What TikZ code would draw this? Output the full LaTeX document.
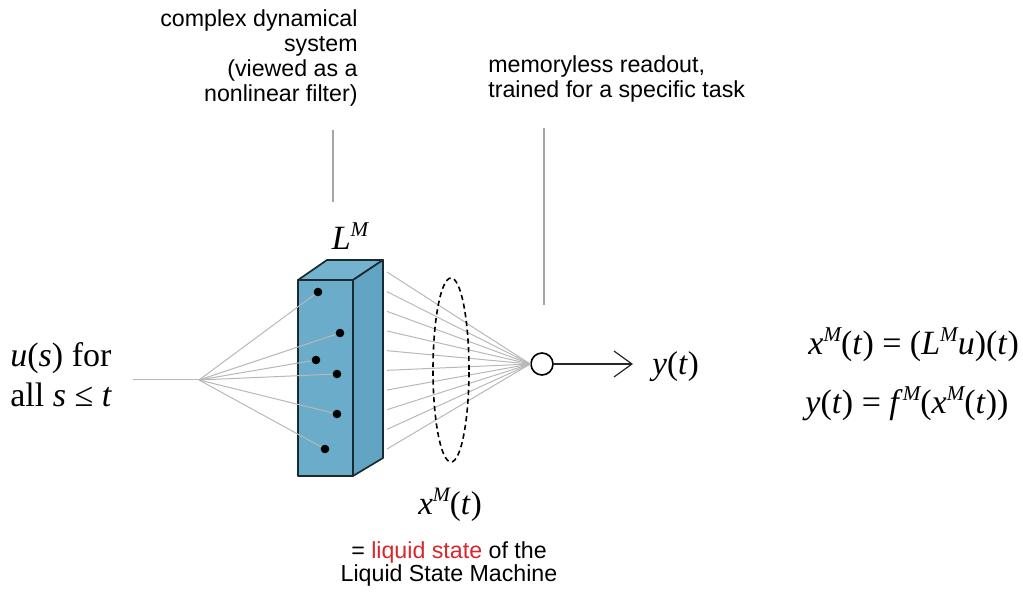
\documentclass[tikz,border=0pt]{standalone}
\usepackage{fontspec}
\setmainfont{Liberation Serif}
\newfontfamily\labelfont{Liberation Sans}
\usepackage{xcolor}
\usepackage{tikz}
\usetikzlibrary{arrows.meta, positioning}

\definecolor{liqfront}{HTML}{6AACCA}
\definecolor{liqtop}{HTML}{74B3D0}
\definecolor{liqside}{HTML}{62A4C3}
\definecolor{liqedge}{HTML}{1C2A30}
\definecolor{statered}{HTML}{D8262A}

% raised italic M used in L^M, x^M, f^M
\newcommand{\upM}{\raisebox{.4em}{\scalebox{.62}{\itshape M}}}

\begin{document}
\begin{tikzpicture}[x=0.5pt, y=-0.5pt,
    wire/.style={draw=black!28, line width=0.5pt},
    lead/.style={draw=black!35, line width=0.6pt},
    neuron/.style={circle, fill=black, inner sep=0pt, minimum size=4.3pt},
    note/.style={font=\labelfont\fontsize{11.6}{12.5}\selectfont, inner sep=0pt},
    formula/.style={font=\fontsize{16.5}{20}\selectfont, inner sep=0pt}]
    \useasboundingbox (0,0) rectangle (1023,592);

    % Liquid column
    \filldraw[fill=liqtop, draw=liqedge, line width=0.85pt, line join=round]
        (298,280) -- (327,260) -- (383,260) -- (353,280) -- cycle;
    \filldraw[fill=liqside, draw=liqedge, line width=0.85pt, line join=round]
        (353,280) -- (383,260) -- (383,458) -- (353,476) -- cycle;
    \filldraw[fill=liqfront, draw=liqedge, line width=0.85pt, line join=round]
        (298,280) rectangle (353,476);

    % Input and neurons
    \coordinate (in) at (133,380);
    \coordinate (hub) at (199,380);
    \node[neuron] (n1) at (318,292) {};
    \node[neuron] (n2) at (340,333) {};
    \node[neuron] (n3) at (316,360) {};
    \node[neuron] (n4) at (337,374) {};
    \node[neuron] (n5) at (337,414) {};
    \node[neuron] (n6) at (325,449) {};
    \draw[wire] (in) -- (hub);
    \foreach \n in {1,...,6}
        \draw[wire] (hub) -- (n\n);

    % Readout
    \node[circle, draw, line width=0.8pt, minimum size=11pt, inner sep=0pt] (readout) at (542,364) {};
    \foreach \i in {0,...,9} {
        \coordinate (o\i) at (387,272+19.67*\i);
        \draw[wire] (o\i) -- (readout.west);
    }
    \draw[line width=0.8pt, dash pattern=on 2.6pt off 1.8pt] (451,370) ellipse [x radius=9pt, y radius=46pt];

    \node[formula, anchor=base west] (out) at (652,375) {\textit{y}(\textit{t})};
    \coordinate (tip) at (633,364);
    \draw[-{Straight Barb[length=9pt, width=13pt]}, line width=0.6pt, draw=black!85] (readout.east) -- (tip);

    % Labels
    \node[formula, align=left, anchor=north west, font=\fontsize{17}{20}\selectfont] (input) at (10,342)
        {\textit{u}(\textit{s}) for\\all \textit{s} ≤ \textit{t}};
    \node[formula, anchor=base, font=\fontsize{17}{17}\selectfont] (liq) at (350,250) {\textit{L}\upM};
    \node[formula, anchor=base] (state) at (450,515) {\textit{x}\upM(\textit{t})};
    \node[note, align=center, anchor=north, font=\labelfont\fontsize{11.6}{11.6}\selectfont] (statenote) at (449,541)
        {= \textcolor{statered}{liquid state} of the\\Liquid State Machine};
    \node[note, align=right, anchor=north east] (sysnote) at (358,9)
        {complex dynamical\\system\\(viewed as a\\nonlinear filter)};
    \node[note, align=left, anchor=north west] (readnote) at (488,55)
        {memoryless readout,\\trained for a specific task};

    % Leader lines
    \coordinate (s1) at (333,130);
    \coordinate (s2) at (333,202);
    \coordinate (r1) at (544,128);
    \coordinate (r2) at (544,305);
    \draw[lead] (s1) -- (s2);
    \draw[lead] (r1) -- (r2);

    % Equations
    \node[formula, anchor=base west, font=\fontsize{17}{20}\selectfont] (eqstate) at (808,355)
        {\textit{x}\upM(\textit{t}) = (\textit{L}\upM\textit{u})(\textit{t})};
    \node[formula, anchor=base west, font=\fontsize{17}{20}\selectfont] (eqout) at (805,414)
        {\textit{y}(\textit{t}) = \textit{f}\upM(\textit{x}\upM(\textit{t}))};
\end{tikzpicture}
\end{document}
